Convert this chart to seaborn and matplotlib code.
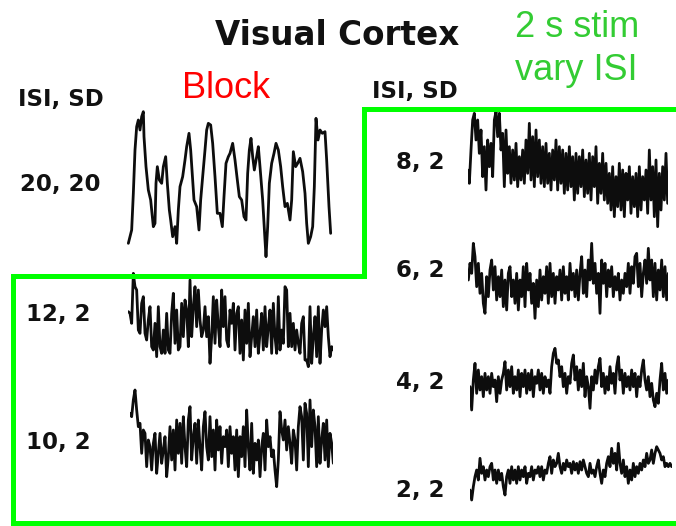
import numpy as np
import pandas as pd
import seaborn as sns
import matplotlib.pyplot as plt
from matplotlib.lines import Line2D

# ---------------------------------------------------------------------------
# BOLD time courses, visual cortex.  Readings are depth below the top of each
# panel (larger number = lower signal), sampled every scan.
# ---------------------------------------------------------------------------

# Block design, ISI 20 / SD 20 (irregular sample times)
block_t = [25, 35, 40, 45, 50, 55, 60, 65, 70, 72, 78, 85, 92, 97, 100, 105, 108, 112,
           118, 125, 130, 137, 142, 148, 152, 158, 165, 170, 175, 180, 188, 195, 200,
           207, 212, 218, 222, 230, 237, 242, 248, 255, 260, 265, 272, 278, 285, 292,
           300, 307, 312, 318, 325, 330, 338, 345, 352, 358, 365, 372, 378, 383, 388,
           393, 398, 403, 410, 415, 420, 428, 435, 438, 443, 448, 455, 462, 468, 475,
           482, 488, 495, 502, 510, 515, 520, 527, 533, 540, 548, 555, 560, 565, 572,
           578, 583, 588, 594, 600, 607, 615, 620, 627, 632]
block_y = [430, 390, 280, 150, 80, 60, 90, 50, 35, 110, 200, 270, 300, 350, 380, 370,
           250, 200, 240, 250, 200, 170, 250, 330, 360, 410, 380, 430, 330, 260, 230,
           180, 140, 100, 150, 240, 300, 320, 390, 300, 230, 150, 90, 70, 75, 130, 230,
           340, 340, 380, 290, 190, 170, 160, 130, 180, 240, 290, 300, 350, 360, 220,
           150, 115, 170, 210, 170, 140, 200, 300, 420, 470, 380, 250, 190, 160, 130,
           150, 200, 260, 320, 310, 360, 300, 155, 200, 190, 175, 215, 280, 370, 430,
           410, 380, 260, 55, 120, 90, 100, 95, 180, 320, 400]

# Event-related, SD 2 s, varying ISI (one value per scan)
isi12 = [125, 130, 160, 10, 50, 60, 180, 190, 100, 80, 190, 210, 150, 110, 230, 240,
         160, 260, 110, 230, 250, 180, 250, 130, 240, 250, 130, 70, 220, 120, 240, 230,
         100, 200, 90, 120, 230, 30, 200, 110, 50, 170, 60, 150, 200, 180, 110, 200,
         140, 280, 200, 80, 220, 90, 170, 230, 60, 170, 80, 210, 230, 120, 160, 100,
         240, 130, 110, 250, 150, 270, 120, 220, 100, 260, 200, 140, 230, 120, 250,
         190, 130, 240, 110, 230, 170, 120, 250, 100, 200, 250, 80, 240, 180, 220, 50,
         60, 230, 130, 230, 160, 240, 180, 220, 250, 160, 140, 270, 270, 290, 110, 280,
         200, 140, 260, 110, 280, 180, 120, 170, 110, 200, 260, 230, 240]

isi10 = [100, 110, 60, 30, 90, 140, 130, 220, 150, 160, 260, 180, 200, 270, 190, 160,
         280, 220, 160, 250, 210, 170, 290, 230, 140, 240, 150, 270, 120, 220, 130, 250,
         110, 200, 260, 120, 80, 240, 170, 130, 250, 120, 200, 270, 140, 95, 200, 240,
         110, 230, 150, 270, 120, 210, 140, 250, 170, 200, 150, 260, 140, 220, 170, 270,
         150, 290, 170, 230, 140, 260, 90, 200, 270, 130, 280, 190, 240, 180, 290, 200,
         160, 270, 120, 200, 170, 230, 210, 270, 320, 240, 95, 150, 180, 120, 210, 140,
         190, 250, 150, 180, 270, 140, 80, 110, 240, 70, 100, 260, 60, 200, 90, 140,
         260, 110, 250, 180, 130, 240, 120, 260, 160, 190, 250]

isi8 = [210, 250, 150, 60, 40, 120, 60, 160, 90, 230, 140, 270, 120, 200, 130, 230, 60,
        35, 110, 40, 150, 100, 260, 90, 220, 140, 250, 150, 240, 130, 260, 170, 240,
        150, 250, 120, 220, 70, 240, 110, 260, 90, 230, 120, 250, 140, 260, 130, 250,
        160, 270, 150, 240, 120, 270, 140, 250, 150, 280, 160, 270, 140, 260, 170, 300,
        160, 280, 170, 260, 150, 290, 180, 280, 160, 300, 170, 260, 140, 310, 190, 280,
        160, 300, 190, 310, 220, 330, 200, 350, 230, 320, 190, 330, 210, 350, 220, 300,
        200, 340, 230, 320, 220, 350, 200, 330, 230, 300, 210, 340, 150, 300, 200, 350,
        180, 380, 220, 330, 200, 300, 160, 310]

isi6 = [150, 100, 130, 40, 80, 170, 100, 190, 130, 220, 250, 140, 200, 120, 90, 180,
        110, 210, 140, 200, 120, 230, 150, 240, 130, 110, 200, 150, 220, 130, 240, 150,
        200, 110, 230, 100, 180, 130, 220, 160, 265, 150, 230, 120, 210, 140, 190, 110,
        220, 100, 200, 130, 220, 140, 180, 120, 210, 110, 190, 140, 210, 100, 180, 130,
        200, 120, 210, 130, 80, 190, 120, 200, 90, 150, 40, 160, 100, 190, 130, 250, 90,
        160, 100, 200, 120, 170, 110, 200, 140, 180, 130, 210, 150, 190, 130, 170, 100,
        190, 110, 160, 80, 70, 170, 100, 200, 130, 90, 160, 55, 150, 90, 200, 100, 210,
        120, 180, 90, 200, 110, 210, 130]

isi4 = [140, 210, 120, 70, 160, 90, 150, 110, 170, 100, 150, 110, 160, 100, 140, 120,
        185, 110, 160, 120, 100, 65, 150, 90, 140, 80, 160, 110, 150, 90, 170, 100, 140,
        90, 160, 100, 150, 90, 170, 110, 130, 90, 150, 100, 160, 110, 140, 120, 160, 80,
        40, 25, 70, 60, 110, 80, 140, 100, 160, 110, 130, 70, 45, 120, 80, 150, 90, 140,
        70, 170, 110, 140, 205, 110, 150, 90, 130, 80, 55, 140, 100, 160, 110, 150, 80,
        130, 100, 160, 80, 50, 120, 90, 160, 100, 140, 110, 150, 90, 140, 100, 170, 110,
        140, 90, 60, 120, 150, 110, 170, 130, 180, 200, 160, 190, 120, 70, 150, 100, 160,
        120]

isi2 = [180, 210, 170, 140, 120, 150, 85, 130, 110, 150, 120, 140, 110, 100, 150, 120,
        160, 120, 150, 130, 170, 195, 140, 120, 160, 110, 150, 120, 160, 110, 150, 120,
        140, 110, 160, 130, 140, 110, 150, 120, 130, 110, 140, 110, 150, 120, 130, 100,
        80, 130, 90, 110, 100, 70, 110, 130, 100, 120, 90, 110, 100, 130, 95, 120, 100,
        130, 95, 120, 90, 110, 130, 140, 100, 130, 120, 140, 110, 90, 130, 160, 120, 140,
        100, 80, 110, 55, 100, 70, 120, 40, 100, 130, 90, 140, 110, 160, 120, 150, 100,
        140, 110, 130, 100, 120, 90, 110, 70, 100, 90, 60, 100, 70, 50, 60, 70, 90, 80,
        110, 100, 110, 100, 110]

row_labels_left = ["20, 20", "12, 2", "10, 2"]
row_labels_right = ["8, 2", "6, 2", "4, 2", "2, 2"]

W, H = 676, 526
sns.set_theme(style="white")
plt.rcParams['font.family'] = ['DejaVu Sans']

fig = plt.figure(figsize=(W / 100, H / 100), dpi=100)
fig.patch.set_facecolor("white")


def px_axes(left, top, width, height):
    ax = fig.add_axes([left / W, 1 - (top + height) / H, width / W, height / H])
    ax.set_axis_off()
    ax.patch.set_alpha(0)
    return ax


TRACE = dict(color="#0d0d0d", estimator=None, sort=False, legend=False)

# block trace
ax = px_axes(120, 100, 225, 160)
sns.lineplot(data=pd.DataFrame({"t": block_t, "bold": block_y}), x="t", y="bold", ax=ax,
             linewidth=2.0, **TRACE)
ax.set_xlim(0, 675)
ax.set_ylim(480, 0)

# event-related traces: (series, panel left, panel top, panel depth, first sample offset)
panels = [
    (isi12, 120, 270, 300, 25),
    (isi10, 120, 380, 330, 30),
    (isi8, 455, 100, 390, 38),
    (isi6, 455, 230, 300, 40),
    (isi4, 455, 340, 240, 45),
    (isi2, 455, 430, 240, 45),
]
for series, left, top, depth, offset in panels:
    n = len(series)
    ax = px_axes(left + offset / 3, top, (n - 1) * 5 / 3, depth / 3)
    df = pd.DataFrame({"scan": np.arange(n), "bold": series})
    sns.lineplot(data=df, x="scan", y="bold", ax=ax, linewidth=2.0, **TRACE)
    ax.set_xlim(0, n - 1)
    ax.set_ylim(depth, 0)


def ftext(x, y, s, **kw):
    fig.text(x / W, 1 - y / H, s, ha="left", va="baseline", **kw)


bold = dict(fontsize=16.5, fontweight="bold", color="#111111", family="DejaVu Sans")
ftext(215, 45, "Visual Cortex", fontsize=23.5, fontweight="bold", color="#111111", family="DejaVu Sans")
ftext(18, 106, "ISI, SD", **bold)
ftext(372, 98, "ISI, SD", **bold)
for lab, y in zip(row_labels_left, [191, 321, 449]):
    ftext(20 if lab == "20, 20" else 26, y, lab, **bold)
for lab, y in zip(row_labels_right, [169, 277, 389, 497]):
    ftext(396, y, lab, **bold)

ftext(182, 98, "Block", fontsize=26, color="#ff0000", family="Liberation Sans")
ftext(515, 37, "2 s stim", fontsize=26, color="#33cc33", family="Liberation Sans")
ftext(515, 80, "vary ISI", fontsize=26, color="#33cc33", family="Liberation Sans")

# green outline around the event-related runs
frame = [(676, 523), (13, 523), (13, 276), (364, 276), (364, 109), (676, 109)]
fx = [p[0] / W for p in frame]
fy = [1 - p[1] / H for p in frame]
fig.add_artist(Line2D(fx, fy, transform=fig.transFigure, color="#00ff00",
                      linewidth=3.6, solid_joinstyle="miter", zorder=10))

fig.savefig("out.png", dpi=100, facecolor="white")
